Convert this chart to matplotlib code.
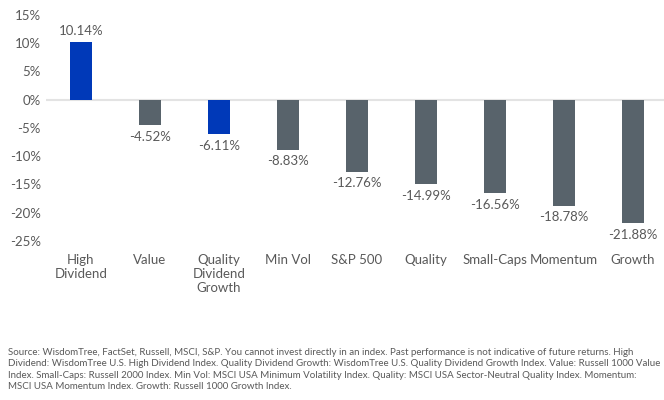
import matplotlib.pyplot as plt
import numpy as np

plt.rcParams['font.family'] = ['Lato', 'DejaVu Sans']

categories = ['High\nDividend', 'Value', 'Quality\nDividend\nGrowth', 'Min Vol', 'S&P 500',
              'Quality', 'Small-Caps', 'Momentum', 'Growth']
returns = [10.14, -4.52, -6.11, -8.83, -12.76, -14.99, -16.56, -18.78, -21.88]
bar_colors = ['#0039b8', '#58636b', '#0039b8', '#58636b', '#58636b',
              '#58636b', '#58636b', '#58636b', '#58636b']
yticks = [15, 10, 5, 0, -5, -10, -15, -20, -25]

footnote = ("Source: WisdomTree, FactSet, Russell, MSCI, S&P. You cannot invest directly in an index. Past performance is not indicative of future returns. High\n"
            "Dividend: WisdomTree U.S. High Dividend Index. Quality Dividend Growth: WisdomTree U.S. Quality Dividend Growth Index. Value: Russell 1000 Value\n"
            "Index. Small-Caps: Russell 2000 Index. Min Vol: MSCI USA Minimum Volatility Index. Quality: MSCI USA Sector-Neutral Quality Index. Momentum:\n"
            "MSCI USA Momentum Index. Growth: Russell 1000 Growth Index.")

txt = '#595959'
fig = plt.figure(figsize=(6.64, 4), dpi=100)
ax = fig.add_axes([0.070, 0.3975, 0.93, 0.565])

x = np.arange(len(categories))
ax.bar(x, returns, 0.32, color=bar_colors, zorder=2)
ax.axhline(0, color='#e3e3e3', lw=1.5, zorder=1)

for xi, v in zip(x, returns):
    if v >= 0:
        ax.annotate('%.2f%%' % v, (xi, v), xytext=(0, 4), textcoords='offset points',
                    ha='center', va='bottom', fontsize=9.5, color=txt)
    else:
        ax.annotate('%.2f%%' % v, (xi, v), xytext=(0, -4), textcoords='offset points',
                    ha='center', va='top', fontsize=9.5, color=txt)

ax.set_xlim(-0.5, 8.45)
ax.set_ylim(-25, 15)
ax.set_yticks(yticks)
ax.set_yticklabels(['%d%%' % t for t in yticks])
ax.set_xticks(x)
ax.set_xticklabels(categories, va='top', linespacing=1.25)
ax.tick_params(axis='both', length=0, labelsize=9.5, labelcolor=txt)
ax.tick_params(axis='x', pad=9)
ax.tick_params(axis='y', pad=4)
for s in ax.spines.values():
    s.set_visible(False)

fig.text(0.012, 0.076, footnote, fontsize=7.05, color=txt, va='center', ha='left', linespacing=1.35)

fig.savefig('out.png', dpi=100)
